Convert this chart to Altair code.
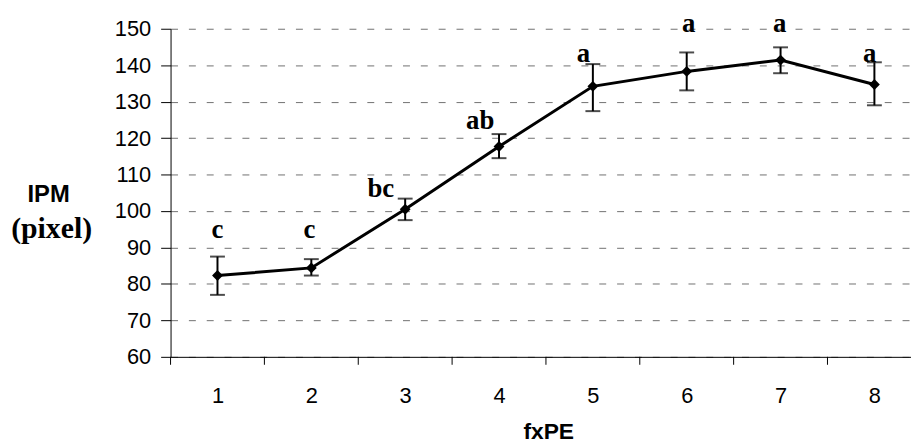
import altair as alt
import pandas as pd

# ---- data ----
fxpe = [1, 2, 3, 4, 5, 6, 7, 8]
ipm_mean = [82.3, 84.4, 100.5, 117.7, 134.2, 138.3, 141.4, 134.7]
ipm_upper = [87.5, 86.8, 103.4, 121.1, 140.3, 143.5, 144.9, 140.8]
ipm_lower = [77.0, 82.3, 97.5, 114.5, 127.4, 133.1, 137.8, 129.0]
groups = ["c", "c", "bc", "ab", "a", "a", "a", "a"]
group_x = [1.0, 1.98, 2.74, 3.8, 4.9, 6.02, 6.99, 7.95]
group_y = [92.6, 92.6, 103.8, 122.5, 141.0, 149.0, 149.0, 141.0]
cat_boundaries = [0.5, 1.5, 2.5, 3.5, 4.5, 5.5, 6.5, 7.5]
y_ticks = [60, 70, 80, 90, 100, 110, 120, 130, 140, 150]

W, H = 747, 331

df = pd.DataFrame({"fxPE": fxpe, "mean": ipm_mean, "upper": ipm_upper,
                   "lower": ipm_lower})
lab = pd.DataFrame({"gx": group_x, "gy": group_y, "g": groups})
bnd = pd.DataFrame({"b": cat_boundaries})

xs = alt.Scale(domain=[0.5, 8.39], nice=False, zero=False)
ys = alt.Scale(domain=[60, 150], nice=False, zero=False)

xaxis = alt.Axis(values=fxpe, ticks=False, grid=False, domainColor="black",
                 domainWidth=1, labelFont="Liberation Sans", labelFontSize=22,
                 labelColor="black", labelPadding=29, title="fxPE",
                 titleFont="Liberation Sans", titleFontSize=23,
                 titleFontWeight="bold", titleColor="black",
                 titleX=381, titleY=82, titleBaseline="alphabetic")
yaxis = alt.Axis(values=y_ticks, tickSize=10, tickColor="black",
                 domainColor="black", domainWidth=1,
                 labelFont="Liberation Sans", labelFontSize=22,
                 labelColor="black", labelPadding=10, grid=True,
                 gridColor="#707070", gridDash=[7, 11], gridWidth=1,
                 title=None)

X = lambda f: alt.X(f, type="quantitative", scale=xs, axis=xaxis)
Y = lambda f: alt.Y(f, type="quantitative", scale=ys, axis=yaxis)

base = alt.Chart(df)

line = base.mark_line(color="black", strokeWidth=3).encode(x=X("fxPE"), y=Y("mean"))
pts = base.mark_point(shape="diamond", filled=True, color="black", size=120,
                      opacity=1).encode(x=X("fxPE"), y=Y("mean"))
err = base.mark_rule(color="black", strokeWidth=2).encode(
    x=X("fxPE"), y=Y("lower"), y2="upper")
cap_top = base.mark_tick(color="black", thickness=2, size=15,
                         orient="horizontal").encode(x=X("fxPE"), y=Y("upper"))
cap_bot = base.mark_tick(color="black", thickness=2, size=15,
                         orient="horizontal").encode(x=X("fxPE"), y=Y("lower"))

letters = alt.Chart(lab).mark_text(font="Liberation Serif", fontSize=27,
                                    fontWeight="bold", color="black",
                                    baseline="alphabetic", align="center").encode(
    x=X("gx"), y=Y("gy"), text="g:N")

bticks = alt.Chart(bnd).mark_rule(color="black", strokeWidth=1).encode(
    x=X("b"), y=alt.value(H), y2=alt.value(H + 8))

ytitle1 = alt.Chart(pd.DataFrame({"t": ["IPM"]})).mark_text(
    font="Liberation Sans", fontSize=24, fontWeight="bold", color="black",
    align="center", baseline="alphabetic").encode(
    x=alt.value(-123), y=alt.value(175), text="t:N")
ytitle2 = alt.Chart(pd.DataFrame({"t": ["(pixel)"]})).mark_text(
    font="Liberation Serif", fontSize=30, fontWeight="bold", color="black",
    align="center", baseline="alphabetic").encode(
    x=alt.value(-120), y=alt.value(211), text="t:N")

chart = alt.layer(line, err, cap_top, cap_bot, pts, letters, bticks,
                  ytitle1, ytitle2).properties(
    width=W, height=H,
    autosize=alt.AutoSizeParams(type="none"),
    padding={"left": 164, "top": 19, "right": 0, "bottom": 86},
    background="white",
).configure_view(stroke=None)

chart.save("out.html", embed_options={"renderer": "svg", "actions": False})
